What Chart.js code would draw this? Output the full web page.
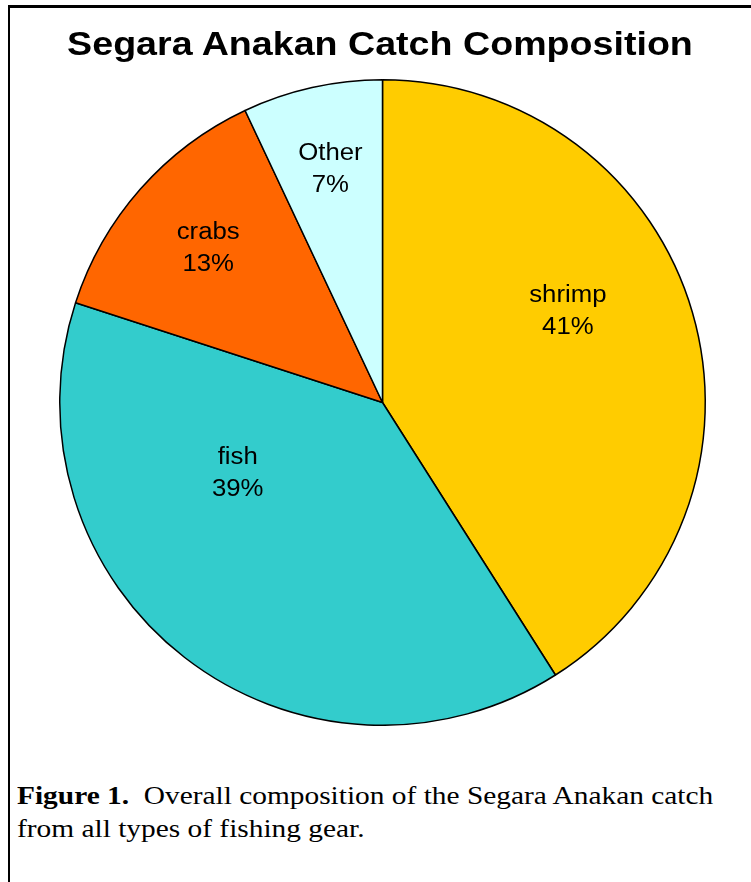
<!DOCTYPE html>
<html>
<head>
<meta charset="utf-8">
<script src="https://cdn.jsdelivr.net/npm/chart.js@4.4.1/dist/chart.umd.min.js"></script>
<style>
  html, body { margin: 0; padding: 0; background: #fff; }
  body { width: 751px; height: 882px; position: relative; overflow: hidden; }
  .frame { position: absolute; left: 8px; top: 5px; right: 0; bottom: 0;
           border-top: 3px solid #000; border-left: 2px solid #000; }
  .chart-box { position: absolute; left: 0; top: 0; width: 751px; height: 726px; }
  /* the original figure text is a bit wider than the font, hence scaleX */
  .title { position: absolute; left: 0; top: 24px; width: 760px; text-align: center;
           font-family: "Liberation Sans", Arial, sans-serif; font-weight: bold;
           font-size: 33px; line-height: 40px; color: #000; white-space: nowrap;
           transform: scaleX(1.14); transform-origin: 50% 50%; }
  .caption { position: absolute; left: 17px; top: 779px; white-space: nowrap;
             font-family: "Liberation Serif", "Times New Roman", serif;
             font-size: 26px; line-height: 33px; color: #000;
             transform: scaleX(1.13); transform-origin: 0 0; }
</style>
</head>
<body>
<div class="frame"></div>
<div class="chart-box"><canvas id="pieChart"></canvas></div>
<div class="title">Segara Anakan Catch Composition</div>
<div class="caption"><b>Figure 1.</b>&nbsp; Overall composition of the Segara Anakan catch<br>from all types of fishing gear.</div>
<script>
// catch shares (%), clockwise from 12 o'clock
var categories = ['shrimp', 'fish', 'crabs', 'Other'];
var shares = [41, 39, 13, 7];
var colors = ['#FFCC00', '#33CCCC', '#FF6600', '#CCFFFF'];

// Excel puts some labels off the middle angle, so nudge them a bit
// (angle shift in degrees, distance as fraction of the radius)
var labelPlacement = [
    { shift: -10, dist: 0.64 },
    { shift: 26, dist: 0.50 },
    { shift: 0, dist: 0.72 },
    { shift: 0, dist: 0.74 }
];

const sliceLabels = {
    id: 'sliceLabels',
    afterDatasetsDraw(chart) {
        const ctx = chart.ctx;
        const meta = chart.getDatasetMeta(0);
        const total = shares.reduce((a, b) => a + b, 0);
        ctx.fillStyle = '#000';
        ctx.font = '23px "Liberation Sans", Arial, sans-serif';
        ctx.textAlign = 'center';
        ctx.textBaseline = 'middle';
        meta.data.forEach((arc, i) => {
            const p = arc.getProps(['x', 'y', 'startAngle', 'endAngle', 'outerRadius'], true);
            const place = labelPlacement[i];
            const mid = (p.startAngle + p.endAngle) / 2 + place.shift * Math.PI / 180;
            const r = p.outerRadius * place.dist;
            const pct = Math.round(shares[i] / total * 100) + '%';
            ctx.save();
            ctx.translate(p.x + Math.cos(mid) * r, p.y + Math.sin(mid) * r);
            ctx.scale(1.12, 1);
            ctx.fillText(categories[i], 0, -16);
            ctx.fillText(pct, 0, 16);
            ctx.restore();
        });
    }
};

new Chart(document.getElementById('pieChart'), {
    type: 'pie',
    data: {
        labels: categories,
        datasets: [{
            data: shares,
            backgroundColor: colors,
            borderColor: '#000',
            borderWidth: 1.5
        }]
    },
    options: {
        responsive: true,
        maintainAspectRatio: false,
        animation: false,
        layout: { padding: { left: 14, right: 0, top: 79, bottom: 0 } },
        plugins: {
            legend: { display: false },
            tooltip: { enabled: false },
            title: { display: false }
        }
    },
    plugins: [sliceLabels]
});
</script>
</body>
</html>
